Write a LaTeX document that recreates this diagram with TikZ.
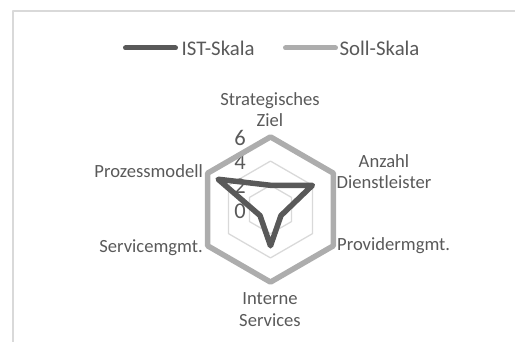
\documentclass[tikz,border=0pt]{standalone}
\usepackage{fontspec}
\setmainfont{Carlito}
\usetikzlibrary{positioning}

\definecolor{istgray}{HTML}{595959}
\definecolor{sollgray}{HTML}{ADADAD}
\definecolor{gridgray}{HTML}{D9D9D9}
\definecolor{txtgray}{HTML}{595959}

\begin{document}
\begin{tikzpicture}[%
    x=1pt, y=1pt,               % one unit is one pixel of the chart
    line join=round,            % Excel-like corners
    ]
% -------------------------------------------------
% A few styles
\tikzset{
  frame/.style={draw=gridgray, line width=1.3pt},
  ring/.style={draw=gridgray, line width=1.3pt},
  istline/.style={draw=istgray, line width=5.5pt},
  sollline/.style={draw=sollgray, line width=5.5pt},
  legline/.style={line width=5pt, line cap=round},
  % text styles
  lbl/.style={inner sep=0pt, text=txtgray, align=center,
    font=\fontsize{18.6}{21.3}\selectfont},
  tick/.style={inner sep=0pt, text=txtgray, anchor=base,
    font=\fontsize{22.5}{26}\selectfont},
  legtext/.style={inner sep=0pt, text=txtgray,
    font=\fontsize{20.8}{24}\selectfont}
}
\useasboundingbox (0,0) rectangle (515,342);
\draw[frame] (13,0) -- (13,331) -- (515,331);
% -------------------------------------------------
% Legend
\coordinate (leg-ist-a) at (125.5,294);
\coordinate (leg-ist-b) at (175.5,294);
\coordinate (leg-soll-a) at (285.5,294);
\coordinate (leg-soll-b) at (335.5,294);
\draw[legline, istgray] (leg-ist-a) -- (leg-ist-b);
\draw[legline, sollgray] (leg-soll-a) -- (leg-soll-b);
\node [legtext, right=6pt of leg-ist-b] (leg-ist) {IST-Skala};
\node [legtext, right=4pt of leg-soll-b] (leg-soll) {Soll-Skala};
% -------------------------------------------------
% The radar itself, centred on the chart middle
\begin{scope}[shift={(270.5,132.5)}]
  \foreach \v in {2,4,6}
    \draw[ring] (90:{\v*12.1}) -- (30:{\v*12.1}) -- (-30:{\v*12.1})
      -- (-90:{\v*12.1}) -- (-150:{\v*12.1}) -- (150:{\v*12.1}) -- cycle;
  % axis numbers
  \foreach \v in {0,2,4,6}
    \node [tick] (tick-\v) at (-30.5,{\v*12.15-8.8}) {\v};
  % data points
  \foreach \a/\v/\n in {90/2/sz, 30/4/ad, -30/1/pm, -90/3/is, -150/1/sm, 150/5/pr}{
    \coordinate (ist-\n) at (\a:{\v*12.1});
    \coordinate (soll-\n) at (\a:72.6);
  }
  \draw[sollline] (soll-sz) -- (soll-ad) -- (soll-pm) -- (soll-is)
    -- (soll-sm) -- (soll-pr) -- cycle;
  \draw[istline] (ist-sz) -- (ist-ad) -- (ist-pm) -- (ist-is)
    -- (ist-sm) -- (ist-pr) -- cycle;
\end{scope}
% -------------------------------------------------
% Category labels
\node [lbl] (cat-sz) at (270,232.4) {Strategisches\\Ziel};
\node [lbl] (cat-ad) at (384,170.2) {Anzahl\\Dienstleister};
\node [lbl, anchor=base west] (cat-pm) at (337,91) {Providermgmt.};
\node [lbl] (cat-is) at (270,32.3) {Interne\\Services};
\node [lbl, anchor=base east] (cat-sm) at (203,89.3) {Servicemgmt.};
\node [lbl, anchor=base east] (cat-pr) at (203,164.7) {Prozessmodell};
% -------------------------------------------------
\end{tikzpicture}
\end{document}
